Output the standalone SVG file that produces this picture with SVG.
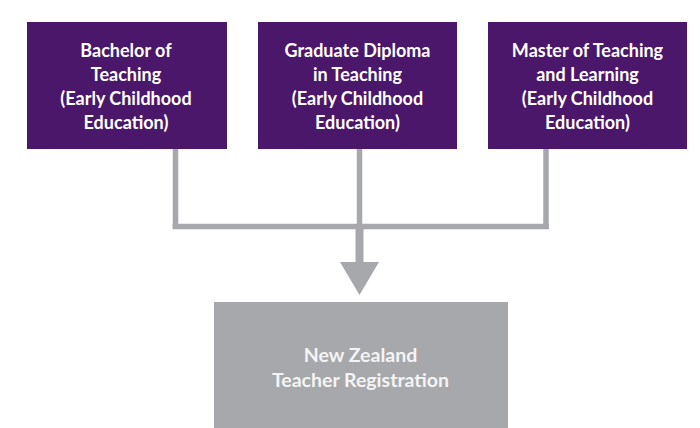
<svg xmlns="http://www.w3.org/2000/svg" width="700" height="428" viewBox="0 0 700 428">
<style>
.box{fill:#4A176A}
.gbox{fill:#A7A8AB}
.t{font-family:Lato,"Liberation Sans",sans-serif;font-weight:bold;font-size:18px;fill:#FFFFFF;text-anchor:middle}
.tg{font-family:Lato,"Liberation Sans",sans-serif;font-weight:bold;font-size:19.5px;fill:#F4F4F4;text-anchor:middle}
.ln{stroke:#A7A8AB;stroke-width:5.5;fill:none}
</style>
<rect width="700" height="428" fill="#FFFFFF"/>
<g id="connectors">
<path class="ln" d="M175.5 148 V226.5 M546 148 V226.5 M172.5 226.5 H549"/>
<path class="ln" d="M359.5 148 V226.5"/>
<path d="M359.5 226 V263" stroke="#A7A8AB" stroke-width="8" fill="none"/>
<polygon points="340,262 379,262 359.5,295" fill="#A7A8AB"/>
</g>
<g id="node-bachelor">
<rect class="box" x="27" y="22" width="200" height="127"/>
<text class="t" x="126" y="57">Bachelor of</text>
<text class="t" x="126" y="81">Teaching</text>
<text class="t" x="126" y="105">(Early Childhood</text>
<text class="t" x="126" y="129">Education)</text>
</g>
<g id="node-graduate">
<rect class="box" x="258" y="22" width="199" height="127"/>
<text class="t" x="357.5" y="57">Graduate Diploma</text>
<text class="t" x="357.5" y="81">in Teaching</text>
<text class="t" x="357.5" y="105">(Early Childhood</text>
<text class="t" x="357.5" y="129">Education)</text>
</g>
<g id="node-master">
<rect class="box" x="488" y="22" width="199" height="127"/>
<text class="t" x="587.5" y="57">Master of Teaching</text>
<text class="t" x="587.5" y="81">and Learning</text>
<text class="t" x="587.5" y="105">(Early Childhood</text>
<text class="t" x="587.5" y="129">Education)</text>
</g>
<g id="node-registration">
<rect class="gbox" x="214" y="302" width="294" height="130"/>
<text class="tg" x="360.5" y="362">New Zealand</text>
<text class="tg" x="360.5" y="387">Teacher Registration</text>
</g>
</svg>
